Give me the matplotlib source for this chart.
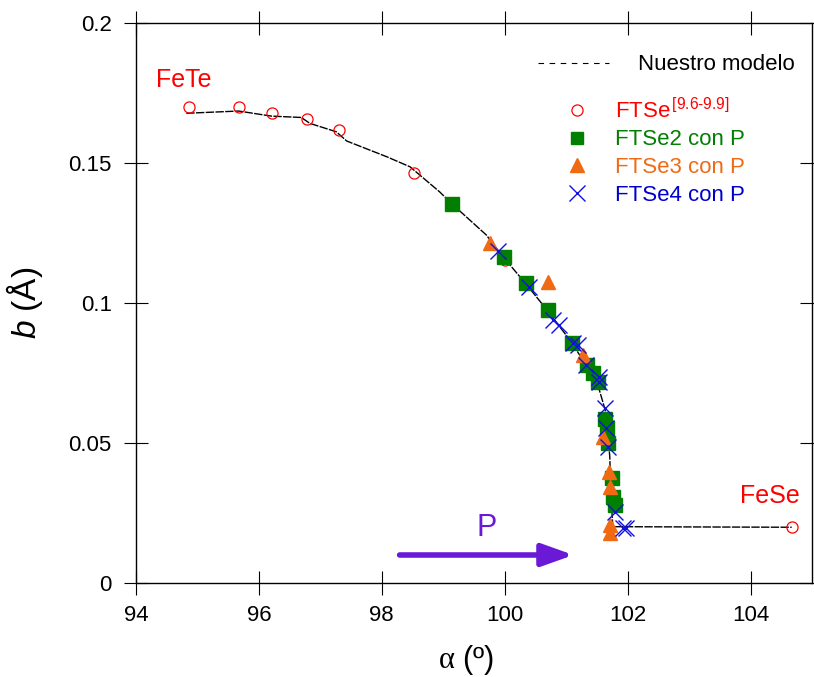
import matplotlib.pyplot as plt
from matplotlib.lines import Line2D

plt.rcParams['font.family'] = ['Liberation Sans', 'DejaVu Sans']
plt.rcParams['mathtext.fontset'] = 'custom'
plt.rcParams['mathtext.rm'] = 'Liberation Sans'
plt.rcParams['mathtext.it'] = 'Liberation Sans:italic'
plt.rcParams['mathtext.sf'] = 'Liberation Serif'

# data
model_x = [94.82, 95.67, 96.2, 96.69, 96.83, 97.26, 97.43, 98.08, 98.46, 98.94,
           99.14, 99.70, 99.98, 100.34, 100.70, 101.06, 101.38, 101.46, 101.54,
           101.65, 101.71, 101.73, 101.76, 104.67]
model_y = [0.1677, 0.1685, 0.1667, 0.1662, 0.1641, 0.1611, 0.1578, 0.1522, 0.1486,
           0.1397, 0.1354, 0.1243, 0.1163, 0.1070, 0.0972, 0.0868, 0.0761, 0.0725,
           0.0690, 0.0607, 0.0452, 0.0309, 0.0202, 0.0200]

ftse_x = [94.87, 95.68, 96.21, 96.78, 97.31, 98.53, 100.0, 104.67]
ftse_y = [0.1698, 0.1698, 0.1677, 0.1655, 0.1617, 0.1463, 0.1153, 0.0200]

ftse2_x = [99.14, 99.99, 100.35, 100.70, 101.10, 101.34, 101.44, 101.52, 101.64,
           101.67, 101.68, 101.75, 101.77, 101.80]
ftse2_y = [0.1353, 0.1163, 0.1070, 0.0975, 0.0856, 0.0779, 0.0751, 0.0719, 0.0585,
           0.0553, 0.0499, 0.0375, 0.0309, 0.0279]

ftse3_x = [99.76, 100.70, 101.28, 101.60, 101.70, 101.71, 101.71, 101.72]
ftse3_y = [0.1213, 0.1076, 0.0815, 0.0523, 0.0398, 0.0345, 0.0208, 0.0178]

ftse4_x = [99.89, 100.39, 100.79, 100.89, 101.11, 101.19, 101.33, 101.54, 101.53,
           101.63, 101.65, 101.68, 101.79, 101.92, 101.98]
ftse4_y = [0.1187, 0.1058, 0.0939, 0.0921, 0.0856, 0.0850, 0.0779, 0.0737, 0.0719,
           0.0624, 0.0553, 0.0487, 0.0255, 0.0196, 0.0196]

red = '#ff0000'
green = '#007f00'
orange = '#f06a14'
blue = '#1010e0'
purple = '#6a1ad6'

fig = plt.figure(figsize=(8.14, 6.77), dpi=100)
ax = fig.add_axes([0.167, 0.1384, 0.8305, 0.828])

# model line
ax.plot(model_x, model_y, color='black', lw=1, dashes=(6, 1), zorder=2)

# experimental points
ax.plot(ftse_x, ftse_y, 'o', ms=8, mfc='none', mec=red, mew=0.9, zorder=3)
ax.plot(ftse2_x, ftse2_y, 's', ms=9.5, color=green, mec=green, zorder=4)
ax.plot(ftse3_x, ftse3_y, '^', ms=10, color=orange, mec=orange, zorder=5)
ax.plot(ftse4_x, ftse4_y, 'x', ms=11, color=blue, mew=1, zorder=6)

ax.set_xlim(94, 105)
ax.set_ylim(0, 0.2)
ax.set_xticks([94, 96, 98, 100, 102, 104])
ax.set_yticks([0, 0.05, 0.1, 0.15, 0.2])
ax.set_yticklabels(['0', '0.05', '0.1', '0.15', '0.2'])
ax.tick_params(direction='inout', length=17, width=0.8, labelsize=16,
               top=True, right=True)
ax.tick_params(axis='y', pad=9)
ax.tick_params(axis='x', pad=7)
for s in ax.spines.values():
    s.set_linewidth(1)

ax.set_xlabel(r'$\mathsf{\alpha}$ (º)', fontsize=22, va='top')
ax.xaxis.set_label_coords(0.488, -0.106)
ax.set_ylabel(r'$\mathit{b}$ (Å)', fontsize=24)
ax.yaxis.set_label_coords(-0.135, 0.5)

# compound labels
ax.text(94.77, 0.177, 'FeTe', color=red, fontsize=18, ha='center')
ax.text(104.31, 0.0286, 'FeSe', color=red, fontsize=18, ha='center')

# pressure arrow
ax.annotate('', xy=(101.12, 0.0101), xytext=(98.29, 0.0101),
            arrowprops=dict(arrowstyle='-|>,head_length=0.7,head_width=0.25',
                            mutation_scale=27, color=purple, lw=4,
                            shrinkA=0, shrinkB=0))
ax.text(99.71, 0.0196, 'P', color=purple, fontsize=22, ha='center', va='center')

# legends
h1 = [Line2D([], [], color='black', lw=0.8, dashes=(5, 5))]
leg1 = ax.legend(h1, ['Nuestro modelo'], loc='center left',
                 bbox_to_anchor=(0.595, 0.925), frameon=False, fontsize=16,
                 handlelength=3.2, handletextpad=1.3, borderpad=0, borderaxespad=0)
ax.add_artist(leg1)

h2 = [Line2D([], [], ls='none', marker='o', ms=8, mfc='none', mec=red, mew=0.9),
      Line2D([], [], ls='none', marker='s', ms=9, color=green),
      Line2D([], [], ls='none', marker='^', ms=10, color=orange),
      Line2D([], [], ls='none', marker='x', ms=11, color=blue, mew=1)]
labels2 = [r'FTSe$^{\,[9.6\text{-}9.9]}$', 'FTSe2 con P', 'FTSe3 con P', 'FTSe4 con P']
ax.legend(h2, labels2, loc='center left', bbox_to_anchor=(0.636, 0.77),
          frameon=False, fontsize=16, handlelength=1.0, handletextpad=1.2,
          labelspacing=0.3, borderpad=0, borderaxespad=0,
          labelcolor=[red, green, orange, 'mediumblue'])

fig.savefig('out.png', dpi=100)
